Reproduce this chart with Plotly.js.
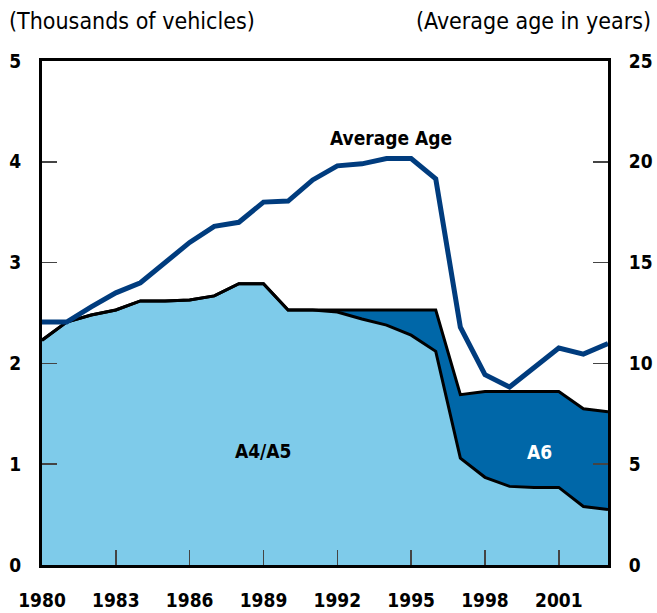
<!DOCTYPE html>
<html>
<head>
<meta charset="utf-8">
<script src="https://cdn.plot.ly/plotly-3.0.1.min.js"></script>
<style>html,body{margin:0;padding:0;background:#fff;}#chart{width:657px;height:613px;}</style>
</head>
<body>
<div id="chart"></div>
<script>
var years = [1980,1981,1982,1983,1984,1985,1986,1987,1988,1989,1990,1991,1992,1993,1994,1995,1996,1997,1998,1999,2000,2001,2002,2003];
var a4a5 = [2.23,2.41,2.48,2.53,2.62,2.62,2.63,2.67,2.79,2.79,2.53,2.53,2.51,2.44,2.38,2.28,2.12,1.06,0.87,0.78,0.77,0.77,0.58,0.55];
var a6   = [0,0,0,0,0,0,0,0,0,0,0,0,0.02,0.09,0.15,0.25,0.41,0.63,0.85,0.94,0.95,0.95,0.97,0.97];
var avgAge = [12.05,12.05,12.8,13.5,14.0,15.0,16.0,16.8,17.0,18.0,18.05,19.1,19.8,19.9,20.16,20.16,19.16,11.8,9.44,8.83,9.8,10.76,10.46,10.99];
var xTicks = [1980,1983,1986,1989,1992,1995,1998,2001];

var FONT = '"Liberation Sans Narrow", "DejaVu Sans Condensed", Arial, sans-serif';

var traces = [
  {x: years, y: a4a5, type: 'scatter', mode: 'lines', stackgroup: 'one',
   line: {color: '#000', width: 3}, fillcolor: '#7ECBEA', name: 'A4/A5', hoverinfo: 'skip'},
  {x: years, y: a6, type: 'scatter', mode: 'lines', stackgroup: 'one',
   line: {color: '#000', width: 3}, fillcolor: '#0067A8', name: 'A6', hoverinfo: 'skip'},
  {x: years, y: avgAge, type: 'scatter', mode: 'lines', yaxis: 'y2',
   line: {color: '#003C7E', width: 5}, name: 'Average Age', hoverinfo: 'skip'}
];

var layout = {
  width: 657, height: 613,
  margin: {l: 42, r: 49, t: 61, b: 48},
  paper_bgcolor: '#fff', plot_bgcolor: '#fff',
  showlegend: false,
  font: {family: FONT, color: '#000'},
  xaxis: {
    range: [1980, 2003], tickvals: xTicks, ticktext: xTicks.map(String),
    ticks: 'inside', ticklen: 15, tickwidth: 1.5, tickcolor: '#444',
    showline: true, linecolor: '#000', linewidth: 3, mirror: true,
    showgrid: false, zeroline: false,
    tickfont: {family: FONT, size: 19, weight: 'bold', color: '#000'},
    ticklabelstandoff: 16
  },
  yaxis: {
    range: [0, 5], dtick: 1, tick0: 0,
    ticks: 'inside', ticklen: 15, tickwidth: 1.5, tickcolor: '#444',
    showline: true, linecolor: '#000', linewidth: 3,
    showgrid: false, zeroline: false,
    tickfont: {family: FONT, size: 19, weight: 'bold', color: '#000'},
    ticklabelstandoff: 14
  },
  yaxis2: {
    range: [0, 25], dtick: 5, tick0: 0, overlaying: 'y', side: 'right',
    ticks: 'inside', ticklen: 15, tickwidth: 1.5, tickcolor: '#444',
    showline: true, linecolor: '#000', linewidth: 3,
    showgrid: false, zeroline: false,
    tickfont: {family: FONT, size: 19, weight: 'bold', color: '#000'},
    ticklabelstandoff: 14
  },
  annotations: [
    {text: '(Thousands of vehicles)', xref: 'paper', yref: 'paper', x: -0.062, y: 1.08,
     xanchor: 'left', yanchor: 'middle', showarrow: false, font: {family: FONT, size: 23, color: '#000'}},
    {text: '(Average age in years)', xref: 'paper', yref: 'paper', x: 1.079, y: 1.08,
     xanchor: 'right', yanchor: 'middle', showarrow: false, font: {family: FONT, size: 23, color: '#000'}},
    {text: 'Average Age', xref: 'x', yref: 'y', x: 1994.2, y: 4.24,
     showarrow: false, font: {family: FONT, size: 19, weight: 'bold', color: '#000'}},
    {text: 'A4/A5', xref: 'x', yref: 'y', x: 1989.0, y: 1.13,
     showarrow: false, font: {family: FONT, size: 19, weight: 'bold', color: '#000'}},
    {text: 'A6', xref: 'x', yref: 'y', x: 2000.2, y: 1.12,
     showarrow: false, font: {family: FONT, size: 19, weight: 'bold', color: '#fff'}}
  ]
};

Plotly.newPlot('chart', traces, layout, {displayModeBar: false, staticPlot: true});
</script>
</body>
</html>
